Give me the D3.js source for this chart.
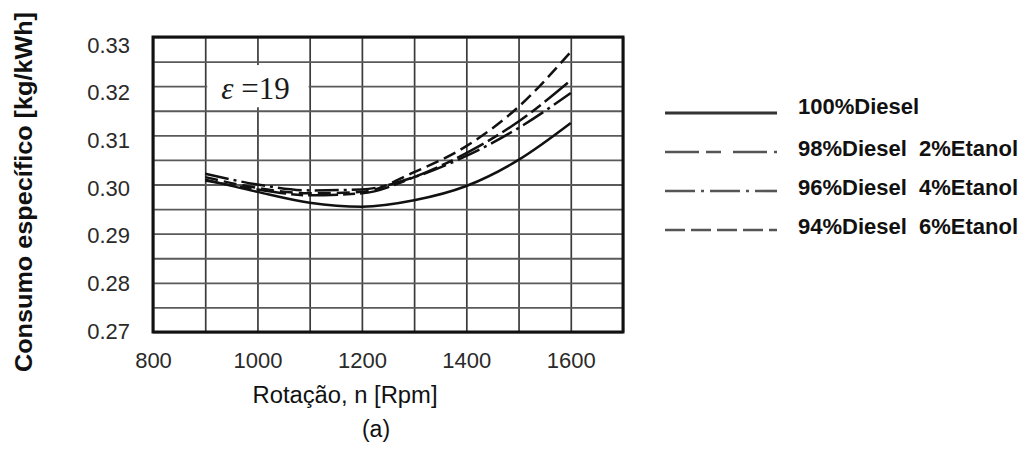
<!DOCTYPE html>
<html>
<head>
<meta charset="utf-8">
<script src="https://cdn.jsdelivr.net/npm/d3@7"></script>
<style>
  body { margin: 0; background: #fff; }
  text { font-family: "Liberation Sans", Arial, sans-serif; }
</style>
</head>
<body>
<div id="chart"></div>
<script>
// data
const rpm = [900, 1000, 1100, 1200, 1300, 1400, 1500, 1600];
const diesel100 = [0.3010, 0.2985, 0.2963, 0.2955, 0.2968, 0.2997, 0.3050, 0.3125];
const diesel98 = [0.3008, 0.2990, 0.2978, 0.2982, 0.3015, 0.3064, 0.3128, 0.3212];
const diesel96 = [0.3022, 0.3000, 0.2988, 0.2990, 0.3015, 0.3058, 0.3115, 0.3186];
const diesel94 = [0.3015, 0.2993, 0.2982, 0.2985, 0.3025, 0.3078, 0.3158, 0.3270];
const seriesNames = ["100%Diesel", "98%Diesel  2%Etanol", "96%Diesel  4%Etanol", "94%Diesel  6%Etanol"];
const xTicks = [800, 1000, 1200, 1400, 1600];
const yTicks = [0.27, 0.28, 0.29, 0.30, 0.31, 0.32, 0.33];

const series = [diesel100, diesel98, diesel96, diesel94];
const dashes = ["none", "30,5,12,5", "24,5,3,5", "13,6"];
const legendDashes = ["none", "34,7,15,12", "30,6,3,6", "20,6"];

// size of graph
const margin = { top: 37, right: 404, bottom: 117, left: 153 };
const width = 1027 - margin.left - margin.right;
const height = 449 - margin.top - margin.bottom;

const xScale = d3.scaleLinear().domain([800, 1700]).range([0, width]);
const yScale = d3.scaleLinear().domain([0.27, 0.33]).range([height, 0]);
// the printed tick labels sit a little off the grid in the original figure
const yLabelScale = d3.scaleLinear().domain([0.27, 0.33]).range([height - 1, 8]);

const svg = d3
  .select("#chart")
  .append("svg")
  .attr("width", 1027)
  .attr("height", 449);

const g = svg
  .append("g")
  .attr("transform", "translate(" + margin.left + "," + margin.top + ")");

// grid lines
g.append("g")
  .attr("class", "xgrid")
  .call(d3.axisBottom(xScale).tickValues(d3.range(800, 1701, 100)).tickSize(height).tickFormat(""))
  .call(s => s.select(".domain").remove())
  .selectAll("line")
  .attr("stroke", "#3a3a3a")
  .attr("stroke-width", 1.7);

g.append("g")
  .attr("class", "ygrid")
  .call(d3.axisLeft(yScale).tickValues(d3.range(0, 13).map(i => 0.27 + i * 0.005)).tickSize(-width).tickFormat(""))
  .call(s => s.select(".domain").remove())
  .selectAll("line")
  .attr("stroke", "#5a5a5a")
  .attr("stroke-width", 1.9);

// epsilon box
g.append("rect")
  .attr("x", xScale(900) + 2)
  .attr("y", yScale(0.3245) + 1)
  .attr("width", xScale(1100) - xScale(900) - 3)
  .attr("height", yScale(0.3155) - yScale(0.3245) - 2)
  .attr("fill", "#fff");

const eps = g.append("text")
  .attr("x", xScale(1000) - 2)
  .attr("y", yScale(0.3245) + 35)
  .attr("text-anchor", "middle")
  .style("font-family", "'Liberation Serif', 'Times New Roman', serif")
  .style("font-size", "31px")
  .attr("fill", "#1a1a1a");
eps.append("tspan").style("font-style", "italic").text("ε");
eps.append("tspan").text(" =19");

// curves
const line = d3.line()
  .x((d, i) => xScale(rpm[i]))
  .y(d => yScale(d))
  .curve(d3.curveMonotoneX);

g.selectAll(".curve")
  .data(series)
  .enter()
  .append("path")
  .attr("class", "curve")
  .attr("d", line)
  .attr("fill", "none")
  .attr("stroke", "#111")
  .attr("stroke-width", 2.5)
  .attr("stroke-dasharray", (d, i) => dashes[i]);

// frame
g.append("rect")
  .attr("width", width)
  .attr("height", height)
  .attr("fill", "none")
  .attr("stroke", "#111")
  .attr("stroke-width", 3);

// axes
g.append("g")
  .attr("class", "xaxis")
  .attr("transform", "translate(0," + height + ")")
  .call(d3.axisBottom(xScale).tickValues(xTicks).tickSize(0).tickPadding(20).tickFormat(d3.format("d")))
  .call(s => s.select(".domain").remove())
  .selectAll("text")
  .style("font-size", "22px")
  .attr("fill", "#2a2a2a");

g.append("g")
  .attr("class", "yaxis")
  .call(d3.axisLeft(yLabelScale).tickValues(yTicks).tickSize(0).tickPadding(23).tickFormat(d3.format(".2f")))
  .call(s => s.select(".domain").remove())
  .selectAll("text")
  .style("font-size", "22px")
  .attr("fill", "#2a2a2a");

// axis titles
svg.append("text")
  .attr("x", 345)
  .attr("y", 403)
  .attr("text-anchor", "middle")
  .attr("textLength", 185)
  .attr("lengthAdjust", "spacingAndGlyphs")
  .style("font-size", "23px")
  .attr("fill", "#111")
  .text("Rotação, n [Rpm]");

svg.append("text")
  .attr("x", 376)
  .attr("y", 437)
  .attr("text-anchor", "middle")
  .style("font-size", "23px")
  .attr("fill", "#111")
  .text("(a)");

svg.append("text")
  .attr("transform", "translate(32,192) rotate(-90)")
  .attr("text-anchor", "middle")
  .attr("textLength", 360)
  .attr("lengthAdjust", "spacingAndGlyphs")
  .style("font-size", "23px")
  .attr("font-weight", 700)
  .attr("fill", "#111")
  .text("Consumo  específico  [kg/kWh]");

// legend
const legend = svg.selectAll(".legend")
  .data(seriesNames)
  .enter()
  .append("g")
  .attr("class", "legend")
  .attr("transform", (d, i) => "translate(0," + (113 + i * 39) + ")");

legend.append("line")
  .attr("x1", 665)
  .attr("x2", 777)
  .attr("stroke", (d, i) => (i === 0 ? "#333" : "#555"))
  .attr("stroke-width", (d, i) => (i === 0 ? 3.2 : 2.6))
  .attr("stroke-dasharray", (d, i) => legendDashes[i]);

legend.append("text")
  .attr("x", 798)
  .attr("y", (d, i) => (i === 0 ? 1 : 4))
  .style("font-size", "22px")
  .attr("font-weight", 700)
  .attr("fill", "#111")
  .style("white-space", "pre")
  .text(d => d);
</script>
</body>
</html>
